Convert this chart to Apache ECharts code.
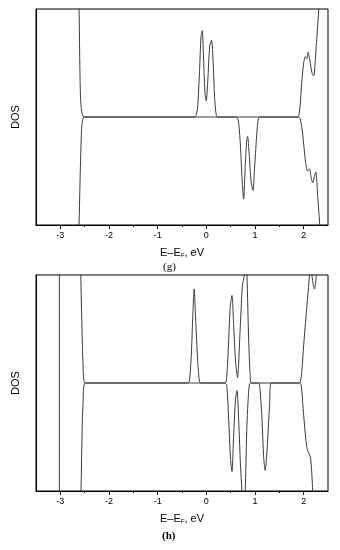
<!DOCTYPE html>
<html>
<head>
<meta charset="utf-8">
<script src="https://cdn.jsdelivr.net/npm/echarts@6.0.0/dist/echarts.min.js"></script>
<style>
  html, body { margin: 0; padding: 0; background: #fff; }
  #chart { width: 340px; height: 550px; }
</style>
</head>
<body>
<div id="chart"></div>
<script>
// energy tick labels (eV)
const majorTicks = [-3, -2, -1, 0, 1, 2];
const minorTicks = [-2.5, -1.5, -0.5, 0.5, 1.5];

// panel (g): [E - EF, DOS]; spin up positive, spin down negative
const gUp = [
  [-3.5, 1.5], [-2.64, 1.5], [-2.615, 1.0], [-2.6, 0.5], [-2.585, 0.18], [-2.56, 0.05], [-2.51, 0],
  [-0.24, 0], [-0.214, 0.01], [-0.18, 0.08], [-0.14, 0.42], [-0.11, 0.74], [-0.084, 0.8],
  [-0.06, 0.58], [-0.03, 0.24], [-0.002, 0.15], [0.03, 0.34], [0.07, 0.66], [0.107, 0.71],
  [0.14, 0.5], [0.17, 0.18], [0.2, 0.03], [0.23, 0],
  [1.88, 0], [1.9, 0.01], [1.93, 0.12], [1.96, 0.32], [2.0, 0.5], [2.035, 0.56], [2.065, 0.54],
  [2.09, 0.6], [2.13, 0.52], [2.17, 0.41], [2.205, 0.38], [2.25, 0.6], [2.31, 1.0], [2.34, 1.3], [2.5, 1.5]
];
const gDown = [
  [-3.5, -1.5], [-2.64, -1.5], [-2.615, -1.0], [-2.59, -0.5], [-2.565, -0.12], [-2.55, -0.05], [-2.51, 0],
  [0.6, 0], [0.642, -0.01], [0.67, -0.08], [0.7, -0.26], [0.735, -0.58], [0.766, -0.76],
  [0.8, -0.45], [0.83, -0.21], [0.848, -0.18], [0.88, -0.34], [0.92, -0.6], [0.958, -0.68],
  [0.99, -0.48], [1.03, -0.2], [1.06, -0.04], [1.09, 0],
  [1.9, 0], [1.93, -0.02], [1.97, -0.12], [2.0, -0.25], [2.04, -0.42], [2.08, -0.5], [2.12, -0.48],
  [2.15, -0.55], [2.185, -0.61], [2.22, -0.55], [2.25, -0.51], [2.29, -0.75], [2.33, -1.0], [2.36, -1.3], [2.5, -1.5]
];

// panel (h)
const hEdge = [[-3.02, 1.5], [-3.02, -1.5]];
const hUp = [
  [-3.5, 1.5], [-2.6, 1.5], [-2.58, 1.0], [-2.555, 0.5], [-2.535, 0.2], [-2.49, 0],
  [-0.4, 0], [-0.352, 0.01], [-0.31, 0.25], [-0.28, 0.6], [-0.25, 0.87], [-0.22, 0.6],
  [-0.18, 0.22], [-0.14, 0.01], [-0.1, 0],
  [0.38, 0], [0.41, 0.01], [0.45, 0.3], [0.49, 0.7], [0.527, 0.81], [0.56, 0.55], [0.6, 0.2],
  [0.642, 0.05], [0.69, 0.45], [0.74, 0.9], [0.78, 1.0], [0.805, 1.4], [0.835, 1.0], [0.87, 0.4],
  [0.9, 0.08], [0.925, 0],
  [1.9, 0], [1.93, 0.01], [1.96, 0.1], [2.0, 0.35], [2.06, 0.68], [2.12, 1.0], [2.145, 1.2],
  [2.17, 1.0], [2.2, 0.9], [2.22, 0.87], [2.26, 1.0], [2.3, 1.5], [2.5, 1.5]
];
const hDown = [
  [-3.5, -1.5], [-2.6, -1.5], [-2.575, -1.0], [-2.555, -0.5], [-2.535, -0.2], [-2.49, 0],
  [0.38, 0], [0.42, -0.02], [0.46, -0.35], [0.5, -0.72], [0.527, -0.82], [0.56, -0.5],
  [0.6, -0.15], [0.63, -0.07], [0.67, -0.4], [0.7, -0.75], [0.73, -1.0], [0.765, -1.5],
  [0.8, -1.0], [0.83, -0.45], [0.86, -0.15], [0.905, 0],
  [1.07, 0], [1.095, -0.02], [1.14, -0.3], [1.18, -0.7], [1.21, -0.81], [1.25, -0.6],
  [1.3, -0.2], [1.335, 0],
  [1.92, 0], [1.95, -0.02], [2.0, -0.3], [2.07, -0.61], [2.14, -0.69], [2.185, -1.0], [2.22, -1.5], [2.5, -1.5]
];

const font = "'Liberation Sans', Arial, sans-serif";
const lineColor = "#3a3a3a";

const myChart = echarts.init(document.getElementById("chart"), null, { renderer: "canvas" });

function xAxes(gi) {
  return [
    {
      gridIndex: gi,
      type: "value",
      position: "bottom",
      min: -3.5,
      max: 2.5,
      axisLine: { onZero: false, lineStyle: { color: "#000", width: 1 } },
      axisTick: { customValues: majorTicks, length: 4, lineStyle: { color: "#000" } },
      axisLabel: { customValues: majorTicks, fontSize: 9, color: "#000", margin: 6, fontFamily: font },
      splitLine: { show: false },
      name: "E–E{sub|F}, eV",
      nameLocation: "middle",
      nameGap: 22,
      nameTextStyle: {
        fontSize: 11,
        color: "#000",
        fontFamily: font,
        rich: {
          sub: { fontSize: 6, verticalAlign: "bottom", padding: [5, 0, 0, 0], fontFamily: font, color: "#000" },
        },
      },
    },
    {
      gridIndex: gi,
      type: "value",
      position: "bottom",
      min: -3.5,
      max: 2.5,
      axisLine: { show: false, onZero: false },
      axisTick: { customValues: minorTicks, length: 2, lineStyle: { color: "#000" } },
      axisLabel: { show: false },
      splitLine: { show: false },
    },
  ];
}

function yAxis(gi) {
  return {
    gridIndex: gi,
    type: "value",
    min: -1,
    max: 1,
    axisLine: { show: true, onZero: false, lineStyle: { color: "#000" } },
    axisTick: { show: false },
    axisLabel: { show: false },
    splitLine: { show: false },
    name: "DOS",
    nameLocation: "middle",
    nameGap: 15,
    nameTextStyle: { fontSize: 11, color: "#000", fontFamily: font },
  };
}

function line(data, xi, yi) {
  return {
    type: "line",
    data: data,
    xAxisIndex: xi,
    yAxisIndex: yi,
    showSymbol: false,
    symbol: "none",
    smooth: 0.25,
    clip: true,
    silent: true,
    lineStyle: { color: lineColor, width: 1 },
  };
}

myChart.setOption({
  animation: false,
  grid: [
    { left: 36, right: 12, top: 9, height: 216, show: true, borderColor: "#000", borderWidth: 1 },
    { left: 36, right: 12, top: 275, height: 216, show: true, borderColor: "#000", borderWidth: 1 },
  ],
  xAxis: [...xAxes(0), ...xAxes(1)],
  yAxis: [yAxis(0), yAxis(1)],
  series: [
    line(gUp, 0, 0),
    line(gDown, 0, 0),
    line(hEdge, 2, 1),
    line(hUp, 2, 1),
    line(hDown, 2, 1),
  ],
  graphic: [
    { type: "text", left: 163, top: 262, style: { text: "(g)", fontSize: 11, fontFamily: "'Liberation Serif', serif", fill: "#000" } },
    { type: "text", left: 162, top: 531, style: { text: "(h)", fontSize: 11, fontWeight: "bold", fontFamily: "'Liberation Serif', serif", fill: "#000" } },
  ],
});
</script>
</body>
</html>
